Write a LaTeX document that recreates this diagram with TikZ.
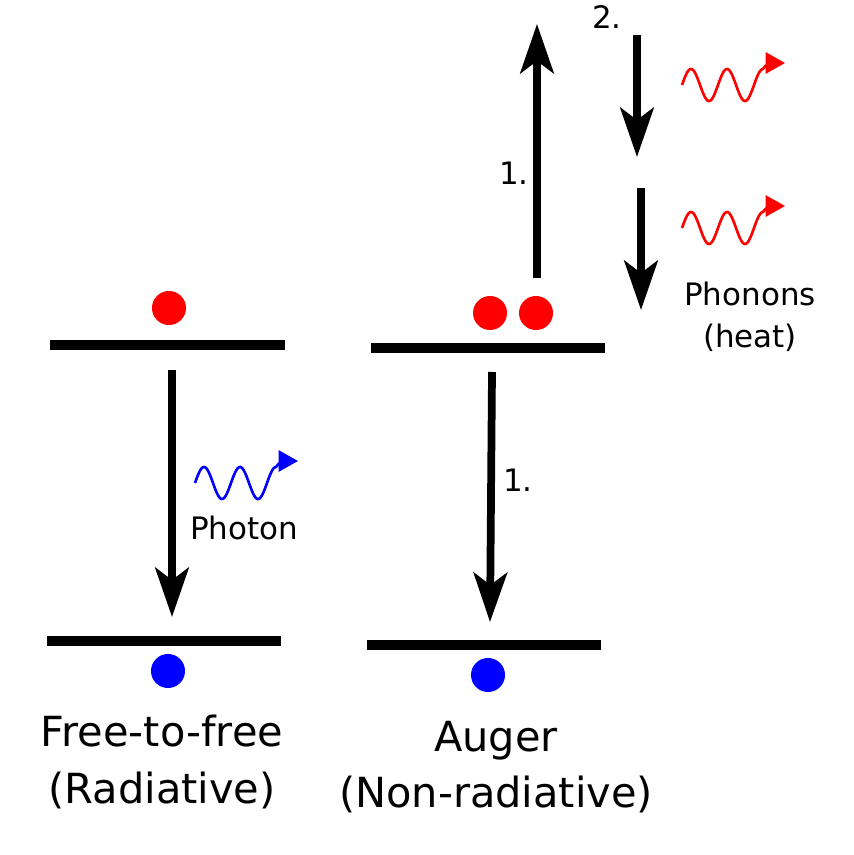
\documentclass[tikz,border=0pt]{standalone}
\usepackage{fontspec}
\setmainfont{DejaVu Sans}
\usetikzlibrary{arrows.meta}

\tikzset{
  level/.style={line width=2.9pt},
  trans/.style={line width=2.2pt, -{Stealth[length=14pt,width=9.5pt,inset=3.5pt]}},
  elec/.style={circle, fill=red, inner sep=0, minimum size=0.34cm},
  hole/.style={circle, fill=blue, inner sep=0, minimum size=0.34cm},
  small/.style={font=\fontsize{8.8}{10}\selectfont, inner sep=0},
  big/.style={font=\fontsize{11.8}{14}\selectfont, inner sep=0, align=center},
  wavy/.style={line width=0.75pt, -{Triangle[length=5.5pt,width=6pt]}}
}
% wavy photon/phonon starting at #1 in colour #2
\newcommand{\wavearrow}[2]{%
  \draw [wavy, #2, shift={#1}] plot [domain=0:81, samples=80, smooth] (\x, {-16*sin(\x*10)})
    to[out=60, in=180] ++(12,-6) -- ++(10,0);}

\begin{document}
\begin{tikzpicture}[x=0.01cm, y=-0.01cm]
  \useasboundingbox (0,0) rectangle (853,855);
  % free-to-free
  \coordinate (L1a) at (50,345); \coordinate (L1b) at (285,345);
  \coordinate (L0a) at (47,641); \coordinate (L0b) at (281,641);
  \draw [level] (L1a) -- (L1b);
  \draw [level] (L0a) -- (L0b);
  \node [elec] (e1) at (169,308) {};
  \node [hole] (h1) at (168,671) {};
  \coordinate (r1) at (172,370); \coordinate (r2) at (172,617);
  \draw [trans] (r1) -- (r2);
  \wavearrow{(195,483)}{blue}
  \node [small] (photon) at (244,528) {Photon};
  \node [big] (lab1) at (162,762) {Free-to-free\\[2pt](Radiative)};
  % auger
  \coordinate (A1a) at (371,348); \coordinate (A1b) at (605,348);
  \coordinate (A0a) at (367,645); \coordinate (A0b) at (601,645);
  \draw [level] (A1a) -- (A1b);
  \draw [level] (A0a) -- (A0b);
  \node [elec] (e2) at (490,313) {};
  \node [elec] (e3) at (536,313) {};
  \node [hole] (h2) at (488,675) {};
  \coordinate (u1) at (537,278); \coordinate (u2) at (537,24);
  \draw [trans] (u1) -- (u2);
  \node [small] (n1) at (514,173) {1.};
  \coordinate (d1) at (492,372); \coordinate (d2) at (490,622);
  \draw [trans] (d1) -- (d2);
  \node [small] (n2) at (518,480) {1.};
  \node [big] (lab2) at (496,767) {Auger\\[2pt](Non-radiative)};
  % relaxation
  \node [small] (n3) at (607,17) {2.};
  \coordinate (s1) at (637,35); \coordinate (s2) at (637,157);
  \coordinate (t1) at (641,188); \coordinate (t2) at (641,310);
  \draw [trans] (s1) -- (s2);
  \draw [trans] (t1) -- (t2);
  \foreach \y in {85,228} {\wavearrow{(682,\y)}{red}}
  \node [small, align=center] (phon) at (750,317) {Phonons\\[2pt](heat)};
\end{tikzpicture}
\end{document}
